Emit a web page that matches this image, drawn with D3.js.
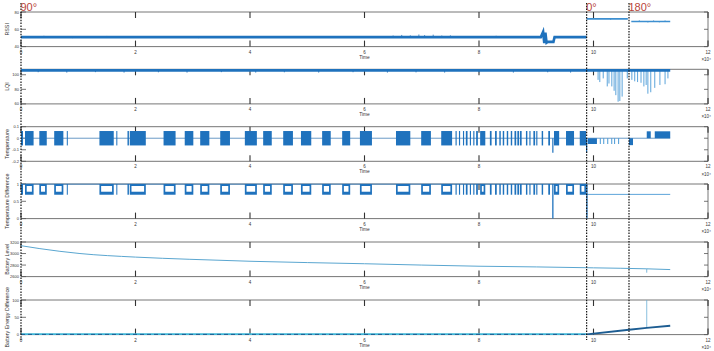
<!DOCTYPE html>
<html><head><meta charset="utf-8">
<script src="https://cdn.jsdelivr.net/npm/d3@7"></script>
<style>body{margin:0;background:#fff}svg{display:block}text{font-family:"Liberation Sans",Arial,sans-serif}</style>
</head><body>
<svg id="c" width="714" height="351"></svg>
<script>
// ---------- data (time in units of 1e4) ----------
const xTicks = [0, 2, 4, 6, 8, 10, 12];
const yLabels = ["RSSI", "LQI", "Temperature", "Temperature Difference", "Battery Level", "Battery Energy Difference"];
const yDomains = [[40, 80], [60, 107.5], [-0.2, 0.1], [0, 1], [2600, 3200], [0, 100]];
const yTicks = [[40, 60, 80], [60, 80, 100], [-0.2, -0.1, 0, 0.1], [0, 0.5, 1], [2600, 2800, 3000, 3200], [0, 50, 100]];
const markers = [{t: 0, label: "90°"}, {t: 9.88, label: "0°"}, {t: 10.62, label: "180°"}];

const rssiLeft = [[0, 51], [9.08, 51], [9.12, 57], [9.14, 44], [9.16, 56], [9.18, 44.5], [9.2, 45.5], [9.3, 45.5], [9.32, 51], [9.88, 51]];
const rssiMid = [[9.88, 72], [10.6, 72]];
const rssiRight = [[10.66, 69], [11.34, 69]];
const rssiSpikes = [[0.4, 52.5], [0.9, 49.8], [1.5, 52.3], [2.2, 52], [3.1, 49.8], [3.9, 52.2], [4.6, 52], [5.3, 52.2], [6.0, 52], [6.5, 52.8], [6.65, 53.5], [6.8, 53], [6.95, 54], [7.05, 53.3], [7.2, 53.8], [7.35, 52.8], [7.5, 53], [8.3, 52.5], [8.7, 52.2], [10.3, 70.8], [10.8, 70.5], [10.95, 67.8], [11.05, 70.4], [11.15, 68], [11.25, 70.3]];

const lqiLine = [[0, 106], [11.34, 106]];
const lqiDrops = [[0.3, 103.5], [0.8, 103], [1.3, 103.6], [1.8, 103], [2.4, 103.4], [2.9, 103], [3.5, 103.6], [4.1, 103], [4.6, 103.4], [5.2, 103], [5.8, 103.5], [6.4, 103], [6.9, 103.3], [7.4, 103], [8.0, 103.5], [8.6, 103], [9.2, 103.4], [9.6, 103],
  [10.08, 93], [10.11, 90], [10.17, 95], [10.24, 84], [10.27, 88], [10.32, 84], [10.36, 78], [10.39, 72], [10.43, 63], [10.46, 64], [10.5, 70], [10.59, 95],
  [10.67, 93], [10.72, 91], [10.77, 90], [10.83, 89], [10.88, 84], [10.92, 86], [10.95, 74], [11.0, 76], [11.07, 82], [11.16, 86], [11.25, 87], [11.3, 95]];

const tempBase = [[0, 0], [11.34, 0]];
const tempBlocks = [
  [0.0, 0.035], [0.07, 0.22], [0.32, 0.45], [0.58, 0.74], [0.80, 0.815], [1.37, 1.62], [1.665, 1.68], [1.86, 1.885], [1.90, 2.18],
  [2.49, 2.70], [2.86, 3.01], [3.13, 3.29], [3.48, 3.65], [3.91, 4.12], [4.23, 4.38], [4.58, 4.75], [4.89, 5.07], [5.26, 5.41],
  [5.61, 5.75], [5.92, 6.13], [6.55, 6.80], [6.99, 7.16], [7.34, 7.53], [7.59, 7.61], [7.65, 7.67], [7.72, 7.74], [7.77, 7.80],
  [7.84, 7.86], [7.90, 7.92], [7.95, 7.98], [8.02, 8.11], [8.19, 8.22], [8.28, 8.31], [8.355, 8.38], [8.415, 8.44], [8.485, 8.51],
  [8.555, 8.58], [8.62, 8.65], [8.67, 8.70], [8.715, 8.745], [8.82, 8.845], [8.88, 8.90], [8.95, 8.98], [9.0, 9.02], [9.095, 9.12],
  [9.21, 9.24], [9.31, 9.40], [9.52, 9.66], [9.76, 9.87]];
const tempHiLo = [0.0625, -0.0625];
const tempRight = [[9.90, 10.06, 0, -0.05], [10.11, 10.125, 0, -0.05], [10.17, 10.185, 0, -0.05], [10.24, 10.255, 0, -0.05], [10.31, 10.325, 0, -0.05], [10.36, 10.375, 0, -0.05], [10.43, 10.445, 0, -0.05], [10.62, 10.69, 0, -0.06], [10.93, 11.0, 0.06, 0], [11.07, 11.34, 0.06, 0]];
const tempSpikes = [[9.29, -0.125], [9.88, -0.125]];

const diffLine = [[0, 1], [9.88, 1]];
const diffRight = [[9.88, 0.7], [11.34, 0.7]];
const diffHiLo = [1, 0.69];
const diffSpikes = [[9.29, 0], [9.885, 0]];

const battLine = [[0, 3136], [0.33, 3085], [1.03, 3000], [2, 2938], [2.95, 2900], [4, 2866], [5, 2843], [6, 2823], [7, 2800], [8, 2780], [9, 2768], [10, 2752], [10.93, 2735], [11.34, 2722]];
const battSpike = [[10.93, 2735], [10.93, 2668]];
const energyLeft = [[0, 0.6], [9.88, 0.6]];
const energyRight = [[9.88, 0.6], [10.62, 14], [10.93, 19.5], [11.34, 25.6]];
const energySpike = [[10.93, 19.5], [10.93, 100]];

// ---------- layout ----------
const svg = d3.select("#c");
const x = d3.scaleLinear().domain([0, 12]).range([21, 708]);
const tops = [12, 69.3, 126.7, 184, 242, 300];
const ph = 34.6;
const ys = yDomains.map((d, i) => d3.scaleLinear().domain(d).range([tops[i] + ph, tops[i]]));
const blue = "#1f72bd";
const light = "#4a9ad6";
const line = (y) => d3.line().x(d => x(d[0])).y(d => y(d[1]));

const defs = svg.append("defs");
tops.forEach((t, i) => {
  defs.append("clipPath").attr("id", "clip" + i).append("rect")
    .attr("x", x(0)).attr("y", t - 0.5).attr("width", x(12) - x(0)).attr("height", ph + 1);
});

tops.forEach((t, i) => {
  const y = ys[i];
  const g = svg.append("g");
  const b = t + ph;
  g.append("line").attr("x1", x(0)).attr("x2", x(12)).attr("y1", t).attr("y2", t).attr("stroke", "#666").attr("stroke-width", 0.9);
  g.append("line").attr("x1", x(0)).attr("x2", x(12)).attr("y1", b).attr("y2", b).attr("stroke", "#666").attr("stroke-width", 0.9);
  g.append("line").attr("x1", x(12)).attr("x2", x(12)).attr("y1", t).attr("y2", b).attr("stroke", "#666").attr("stroke-width", 0.9);
  xTicks.forEach(v => {
    g.append("line").attr("x1", x(v)).attr("x2", x(v)).attr("y1", b).attr("y2", b - 6).attr("stroke", "#333").attr("stroke-width", 1.1);
    g.append("line").attr("x1", x(v)).attr("x2", x(v)).attr("y1", t).attr("y2", t + 6).attr("stroke", "#333").attr("stroke-width", 1.1);
    g.append("text").attr("x", x(v)).attr("y", b + 7).attr("text-anchor", "middle").attr("font-size", 4.5).attr("fill", "#333").text(v);
  });
  yTicks[i].forEach(v => {
    g.append("line").attr("x1", x(0)).attr("x2", x(0) + 5).attr("y1", y(v)).attr("y2", y(v)).attr("stroke", "#555").attr("stroke-width", 0.8);
    g.append("line").attr("x1", x(12)).attr("x2", x(12) - 4).attr("y1", y(v)).attr("y2", y(v)).attr("stroke", "#555").attr("stroke-width", 0.8);
    g.append("text").attr("x", 19).attr("y", y(v) + 1.5).attr("text-anchor", "end").attr("font-size", 4).attr("fill", "#333").text(v);
  });
  g.append("text").attr("x", (x(0) + x(12)) / 2).attr("y", b + 12).attr("text-anchor", "middle").attr("font-size", 4.8).attr("fill", "#333").text("Time");
  g.append("text").attr("x", 711).attr("y", b + 14.5).attr("text-anchor", "end").attr("font-size", 4.5).attr("fill", "#333").text("×10⁴");
  g.append("text").attr("transform", `translate(8.5,${t + ph / 2}) rotate(-90)`).attr("text-anchor", "middle").attr("font-size", 5.3).attr("fill", "#333").text(yLabels[i]);
});

const dg = (i) => svg.append("g").attr("clip-path", `url(#clip${i})`);

// RSSI
{
  const g = dg(0), y = ys[0];
  const base = t => t < 9.88 ? 51 : (t < 10.6 ? 72 : 69);
  g.selectAll("line.s").data(rssiSpikes).enter().append("line").attr("x1", d => x(d[0])).attr("x2", d => x(d[0]))
    .attr("y1", d => y(base(d[0]))).attr("y2", d => y(d[1])).attr("stroke", d => d[0] > 9.88 ? light : blue).attr("stroke-width", 0.8);
  g.append("path").datum(rssiLeft).attr("d", line(y)).attr("fill", "none").attr("stroke", blue).attr("stroke-width", 2.6);
  g.append("path").datum(rssiMid).attr("d", line(y)).attr("fill", "none").attr("stroke", "#3d8fd0").attr("stroke-width", 1.6);
  g.append("path").datum(rssiRight).attr("d", line(y)).attr("fill", "none").attr("stroke", "#3d8fd0").attr("stroke-width", 1.4);
}
// LQI
{
  const g = dg(1), y = ys[1];
  g.selectAll("line.s").data(lqiDrops).enter().append("line").attr("x1", d => x(d[0])).attr("x2", d => x(d[0]))
    .attr("y1", y(106)).attr("y2", d => y(d[1])).attr("stroke", d => d[0] > 9.88 ? light : blue).attr("stroke-width", 0.9);
  g.append("path").datum(lqiLine).attr("d", line(y)).attr("fill", "none").attr("stroke", blue).attr("stroke-width", 2.8);
}
// Temperature
{
  const g = dg(2), y = ys[2];
  g.append("path").datum(tempBase).attr("d", line(y)).attr("fill", "none").attr("stroke", "#5a8fc0").attr("stroke-width", 0.9);
  g.selectAll("rect.b").data(tempBlocks).enter().append("rect")
    .attr("x", d => x(d[0])).attr("width", d => Math.max(1, x(d[1]) - x(d[0])))
    .attr("y", y(tempHiLo[0])).attr("height", y(tempHiLo[1]) - y(tempHiLo[0])).attr("fill", blue);
  g.selectAll("rect.r").data(tempRight).enter().append("rect")
    .attr("x", d => x(d[0])).attr("width", d => Math.max(1, x(d[1]) - x(d[0])))
    .attr("y", d => y(d[2])).attr("height", d => y(d[3]) - y(d[2])).attr("fill", d => (x(d[1]) - x(d[0]) < 2 ? light : blue));
  g.selectAll("line.s").data(tempSpikes).enter().append("line").attr("x1", d => x(d[0])).attr("x2", d => x(d[0]))
    .attr("y1", y(0)).attr("y2", d => y(d[1])).attr("stroke", blue).attr("stroke-width", 1.2);
}
// Temperature Difference
{
  const g = dg(3), y = ys[3];
  g.append("path").datum(diffLine).attr("d", line(y)).attr("fill", "none").attr("stroke", blue).attr("stroke-width", 1);
  g.append("path").datum(diffRight).attr("d", line(y)).attr("fill", "none").attr("stroke", light).attr("stroke-width", 0.9);
  const yh = y(diffHiLo[0]), yl = y(diffHiLo[1]);
  tempBlocks.forEach(d => {
    const x0 = x(d[0]), w = Math.max(1, x(d[1]) - x(d[0]));
    g.append("rect").attr("x", x0).attr("width", w).attr("y", yh).attr("height", yl - yh).attr("fill", blue);
    if (w > 5) g.append("rect").attr("x", x0 + 1.7).attr("width", w - 3.4).attr("y", yh + 2).attr("height", yl - yh - 5).attr("fill", "#fff");
  });
  g.selectAll("line.s").data(diffSpikes).enter().append("line").attr("x1", d => x(d[0])).attr("x2", d => x(d[0]))
    .attr("y1", y(1)).attr("y2", d => y(d[1])).attr("stroke", blue).attr("stroke-width", 1.3);
}
// Battery level
{
  const g = dg(4), y = ys[4];
  g.append("path").datum(battLine).attr("d", line(y).curve(d3.curveMonotoneX)).attr("fill", "none").attr("stroke", "#5aa6d0").attr("stroke-width", 1);
  g.append("path").datum(battSpike).attr("d", line(y)).attr("fill", "none").attr("stroke", "#5aa6d0").attr("stroke-width", 0.8);
}
// Battery energy difference
{
  const g = dg(5), y = ys[5];
  g.append("path").datum(energyLeft).attr("d", line(y)).attr("fill", "none").attr("stroke", "#3fb6d6").attr("stroke-width", 2.2);
  g.append("path").datum(energyLeft).attr("d", line(y)).attr("fill", "none").attr("stroke", "#1d5d92").attr("stroke-width", 1).attr("stroke-dasharray", "4,3");
  g.append("path").datum(energySpike).attr("d", line(y)).attr("fill", "none").attr("stroke", "#6aaed6").attr("stroke-width", 0.8);
  g.append("path").datum(energyRight).attr("d", line(y)).attr("fill", "none").attr("stroke", "#1d5d92").attr("stroke-width", 1.8);
}

// markers
markers.forEach(m => {
  svg.append("line").attr("x1", x(m.t)).attr("x2", x(m.t)).attr("y1", 3).attr("y2", 340)
    .attr("stroke", "#111").attr("stroke-width", 1.2).attr("stroke-dasharray", "1.5,1.3");
  svg.append("text").attr("x", x(m.t) - 0.5).attr("y", 10.5).attr("font-size", 11).attr("fill", "#b8453a").text(m.label);
});
</script>
</body></html>
